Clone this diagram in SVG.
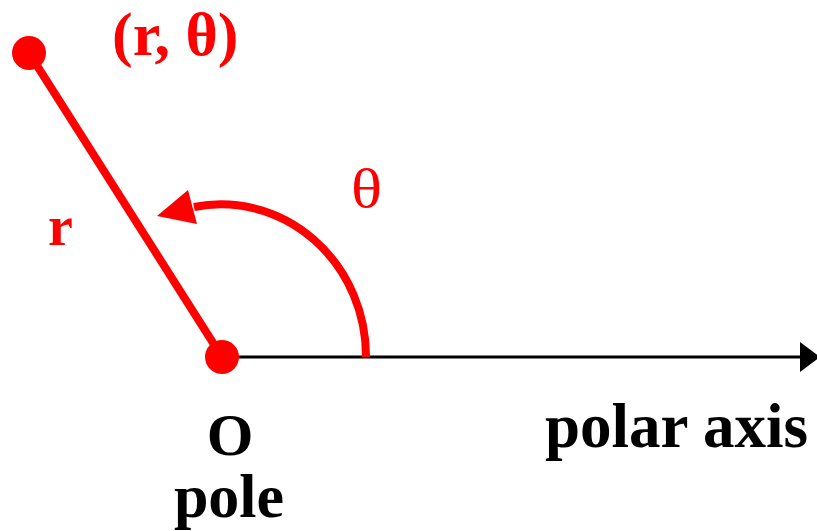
<svg xmlns="http://www.w3.org/2000/svg" width="817" height="531" viewBox="0 0 817 531">
<style>
.t{font-family:"Liberation Serif","Times New Roman",serif;font-weight:bold}
.red{fill:#ff0000}
.blk{fill:#000}
</style>
<rect width="817" height="531" fill="#fff"/>
<g id="connectors">
<line x1="222" y1="357" x2="801" y2="357" stroke="#000" stroke-width="3"/>
<polygon points="800,342 820,357 800,372" fill="#000"/>
<line x1="29" y1="53" x2="222" y2="357" stroke="#ff0000" stroke-width="8"/>
<path d="M366 357 A145 152 0 0 0 194 207" fill="none" stroke="#ff0000" stroke-width="8"/>
<polygon points="157,216 188,190 197,224" fill="#ff0000"/>
</g>
<g id="point">
<circle cx="29" cy="53" r="17" fill="#ff0000"/>
<text class="t red" x="112" y="55" font-size="62">(r, θ)</text>
</g>
<g id="pole">
<circle cx="222" cy="357" r="17" fill="#ff0000"/>
<text class="t blk" x="230" y="455" font-size="60" text-anchor="middle">O</text>
<text class="t blk" x="229" y="517" font-size="62" text-anchor="middle">pole</text>
</g>
<g id="labels">
<text class="t red" x="48" y="245" font-size="56">r</text>
<text class="red" transform="translate(351,207) scale(1.2,1)" font-size="54" font-family="Liberation Serif, serif">θ</text>
<text class="t blk" x="545" y="447" font-size="63">polar axis</text>
</g>
</svg>
